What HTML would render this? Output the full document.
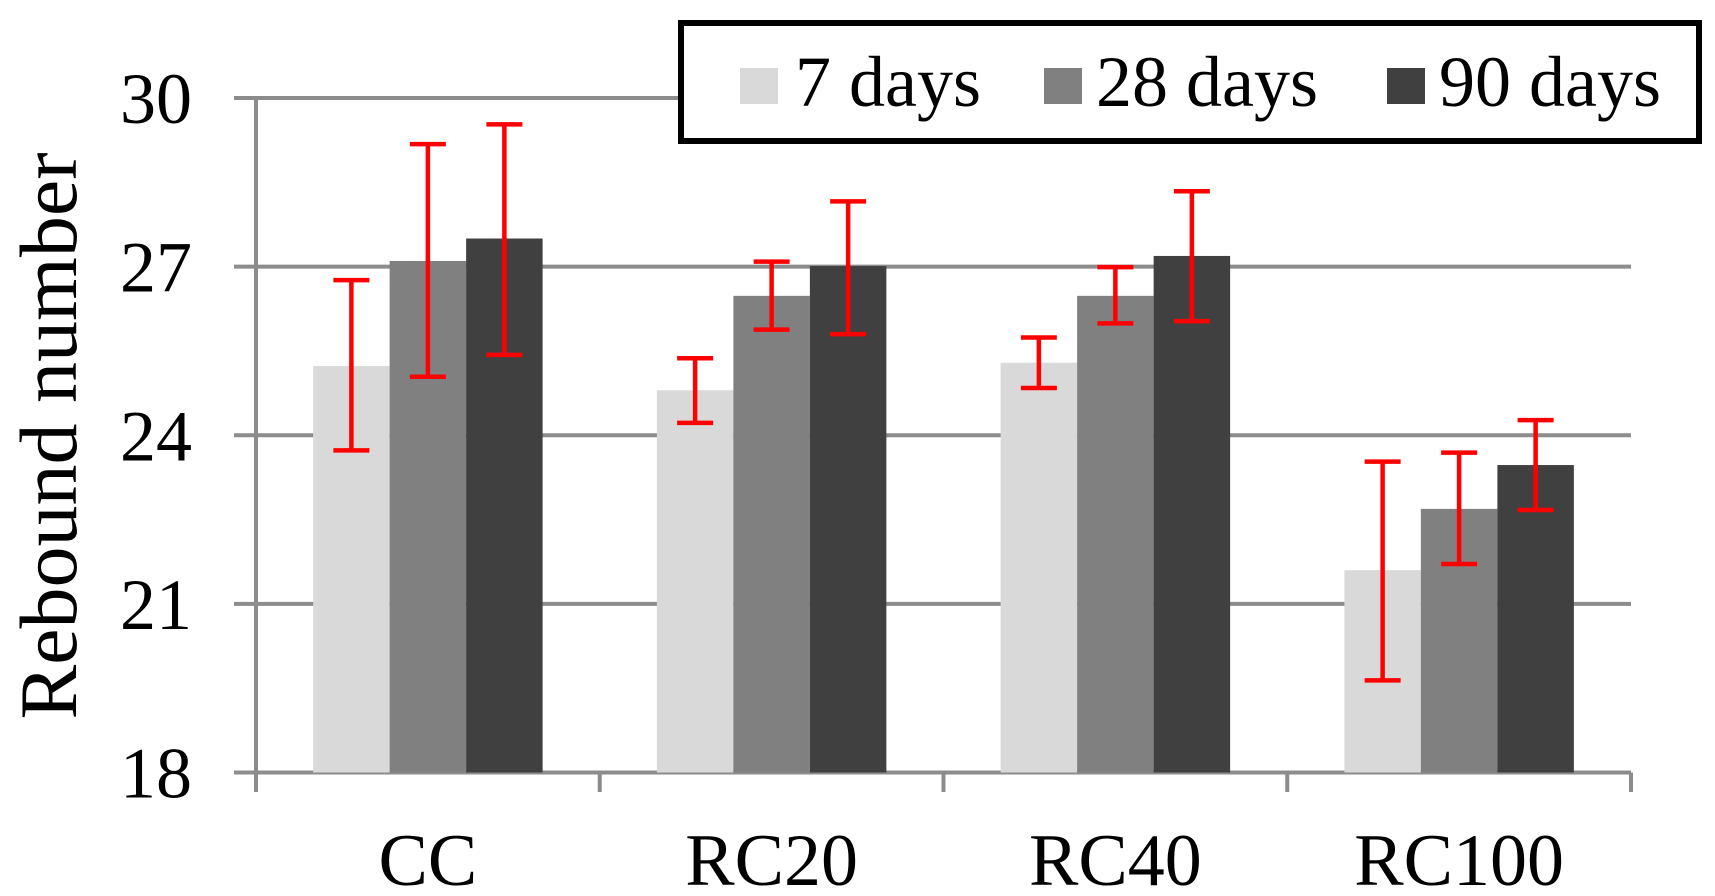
<!DOCTYPE html>
<html><head><meta charset="utf-8"><style>
html,body{margin:0;padding:0;background:#fff;}
svg{display:block;font-family:"Liberation Serif",serif;}
</style></head><body>
<svg width="1715" height="896" viewBox="0 0 1715 896">
<g id="grid"></g><g id="bars"></g><g id="errs"></g><g id="axes"></g><g id="labels"></g>
<text x="0" y="0" transform="translate(76,436) rotate(-90)" text-anchor="middle" font-size="82">Rebound number</text>
<g>
<rect x="681" y="23" width="1018" height="118" fill="#fff" stroke="#000" stroke-width="6"/>
<rect x="740" y="68" width="38" height="36" fill="#d9d9d9"/>
<text x="795" y="106" font-size="72">7 days</text>
<rect x="1044" y="68" width="38" height="36" fill="#808080"/>
<text x="1096" y="106" font-size="72">28 days</text>
<rect x="1387" y="68" width="38" height="36" fill="#404040"/>
<text x="1439" y="106" font-size="72">90 days</text>
</g>
</svg>
<script>
const categories=["CC","RC20","RC40","RC100"];
const seriesNames=["7 days","28 days","90 days"];
const colors=["#d9d9d9","#808080","#404040"];
const v7=[25.23,24.8,25.29,21.6];
const v28=[27.1,26.48,26.48,22.69];
const v90=[27.5,27.01,27.19,23.47];
const hi7=[26.76,25.37,25.74,23.53];
const lo7=[23.73,24.22,24.84,19.64];
const hi28=[29.18,27.09,26.99,23.69];
const lo28=[25.04,25.88,25.99,21.71];
const hi90=[29.53,28.16,28.34,24.27];
const lo90=[25.43,25.8,26.03,22.67];
const yTicks=[18,21,24,27,30];
const NS="http://www.w3.org/2000/svg";
const x0=256,x1=1631,yTop=98,yBot=772.5,ymin=18,ymax=30;
const y=v=>yBot-(v-ymin)/(ymax-ymin)*(yBot-yTop);
const gw=(x1-x0)/categories.length,bw=76.5,gpad=(gw-3*bw)/2;
function mk(t,a,p){const e=document.createElementNS(NS,t);for(const k in a)e.setAttribute(k,a[k]);document.getElementById(p).appendChild(e);return e;}
yTicks.forEach(t=>{
 const l=mk('line',{x1:234,x2:x1,y1:y(t),y2:y(t),stroke:'#8c8c8c','stroke-width':4},'grid');
 
 
 const tx=mk('text',{x:192,y:y(t)+25,'text-anchor':'end','font-size':72},'labels');
 tx.textContent=t;
 
 
});
const ax=mk('line',{x1:x0,x2:x0,y1:yTop-2,y2:792,stroke:'#8c8c8c','stroke-width':4},'axes');


for(let i=0;i<=categories.length;i++){
 const l=mk('line',{x1:x0+i*gw,x2:x0+i*gw,y1:yBot,y2:792,stroke:'#8c8c8c','stroke-width':4},'axes');
 
 
}
const vals=[v7,v28,v90],his=[hi7,hi28,hi90],los=[lo7,lo28,lo90];
categories.forEach((c,i)=>{
 const tx=mk('text',{x:x0+gw*(i+0.5),y:885,'text-anchor':'middle','font-size':74},'labels');
 tx.textContent=c;
 
 
 for(let s=0;s<3;s++){
  const bx=x0+i*gw+gpad+s*bw;
  const r=mk('rect',{x:bx,y:y(vals[s][i]),width:bw,height:yBot-y(vals[s][i]),fill:colors[s]},'bars');
  
  
  const cx=bx+bw/2,h=y(his[s][i]),lo=y(los[s][i]);
  const g=mk('path',{d:`M${cx},${h}V${lo}M${cx-18},${h}H${cx+18}M${cx-18},${lo}H${cx+18}`,stroke:'#ff0000','stroke-width':4.5,fill:'none'},'errs');
  
  
 }
});
</script>
</body></html>
